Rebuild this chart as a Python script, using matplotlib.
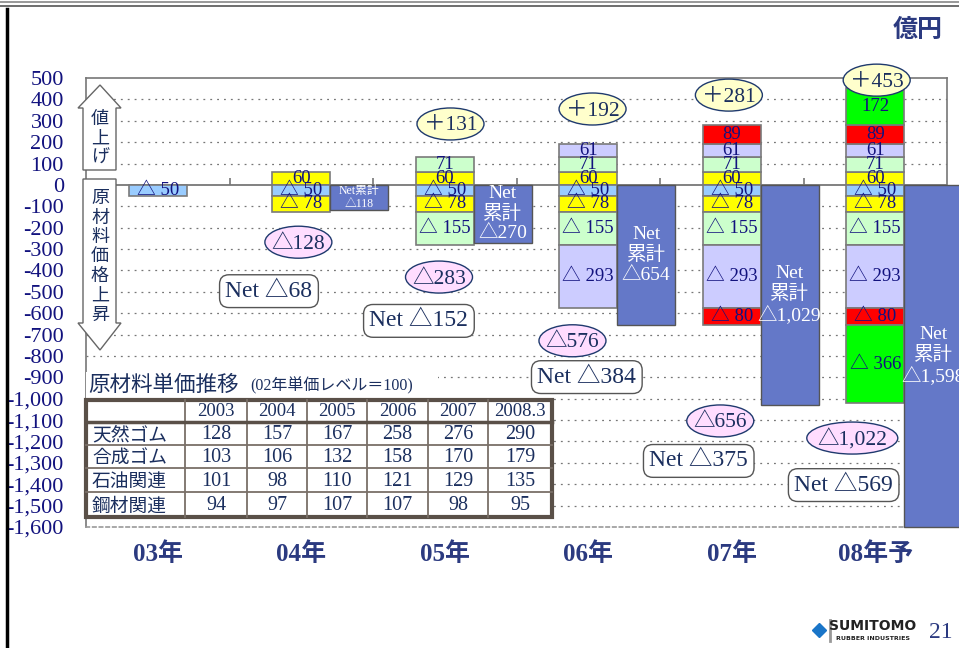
import numpy as np
import matplotlib.pyplot as plt
from matplotlib.patches import Polygon, Rectangle, Ellipse

plt.rcParams["font.family"] = ["Liberation Serif", "Noto Sans CJK JP"]
SANS = ["Noto Sans CJK JP"]

# ---- data -------------------------------------------------------------
years = ["03年", "04年", "05年", "06年", "07年", "08年予"]
price_up = [0, 60, 71, 61, 89, 172]          # 値上げ (added each year)
material_up = [50, 78, 155, 293, 80, 366]    # 原材料価格上昇 (added each year)
net_cum = [50, 118, 270, 654, 1029, 1598]    # Net累計 (bar drawn from 04)
seg_colors = ["#99CCFF", "#FFFF00", "#CCFFCC", "#CCCCFF", "#FF0000", "#00FF00"]

table_cols = ["2003", "2004", "2005", "2006", "2007", "2008.3"]
table_rows = ["天然ゴム", "合成ゴム", "石油関連", "鋼材関連"]
table_vals = [
    [128, 157, 167, 258, 276, 290],
    [103, 106, 132, 158, 170, 179],
    [101, 98, 110, 121, 129, 135],
    [94, 97, 107, 107, 98, 95],
]

up_total = np.cumsum(price_up)
down_total = np.cumsum(material_up)
net_year = down_total - up_total

# label placements (data coords)
up_pos = {2: (2.04, 285), 3: (3.03, 355), 4: (3.98, 420), 5: (5.01, 490)}
down_pos = {1: (0.98, -268), 2: (1.96, -431), 3: (2.89, -729), 4: (3.92, -1104), 5: (4.84, -1184)}
net_pos = {1: (0.775, -497), 2: (1.82, -636), 3: (2.99, -899), 4: (3.77, -1291), 5: (4.78, -1404)}

NAVY = "#12127E"
DARK = "#1B2F5E"
NETC = "#6478C8"
EDGE = "#7A7A7A"
W = 0.404
PX_X = 143.5     # pixels per x unit
PX_Y = 0.2138    # pixels per y unit

fig = plt.figure(figsize=(9.59, 6.48), dpi=100)
ax = fig.add_axes([86 / 959, 1 - 527 / 648, (947 - 86) / 959, (527 - 78) / 648])
ax.set_xlim(-0.5, 5.5)
ax.set_ylim(-1600, 500)

# grid + zero line
for v in range(-1500, 500, 100):
    if v != 0:
        ax.axhline(v, color="#777", lw=0.9, ls=(0, (1.5, 4)), zorder=1)
ax.axhline(0, color="#777", lw=1.3, zorder=2)
ax.vlines(np.arange(len(years) - 1) + 0.5, 0, 32, color="#777", lw=1.2, zorder=2)

for s in ax.spines.values():
    s.set_color("#777")
    s.set_linewidth(1.2)
ax.spines["bottom"].set_linestyle((0, (2, 2)))
ax.spines["bottom"].set_color("#999")

x = np.arange(len(years))
for i in x:
    bottom = 0
    for j in range(1, i + 1):
        if price_up[j] == 0:
            continue
        ax.bar(i, price_up[j], W, bottom=bottom, color=seg_colors[j],
               edgecolor=EDGE, lw=1.2, zorder=3)
        ax.text(i, bottom + price_up[j] / 2, f"{price_up[j]}", ha="center",
                va="center", fontsize=13.5, color=NAVY, zorder=4)
        bottom += price_up[j]
    top = 0
    for j in range(0, i + 1):
        ax.bar(i, -material_up[j], W, bottom=top, color=seg_colors[j],
               edgecolor=EDGE, lw=1.2, zorder=3)
        ax.text(i, top - material_up[j] / 2, f"△ {material_up[j]}", ha="center",
                va="center", fontsize=13.5, color=NAVY, zorder=4)
        top -= material_up[j]
    if i > 0:
        ax.bar(i + W, -net_cum[i], W, color=NETC, edgecolor="#555", lw=1,
               zorder=3, clip_on=False)
        if i == 1:
            lbl, fs = f"Net累計\n△{net_cum[i]:,}", 8.5
        else:
            lbl, fs = f"Net\n累計\n△{net_cum[i]:,}", 14
        ax.text(i + W, -net_cum[i] / 2, lbl, ha="center", va="center",
                fontsize=fs, color="white", zorder=4, clip_on=False)


def bubble(px, py, label, face):
    w = (19 + 12 * len(label)) / PX_X
    h = 32 / PX_Y
    ax.add_patch(Ellipse((px, py), w, h, fc=face, ec="#1F3A6E", lw=1,
                         zorder=6, clip_on=False))
    ax.text(px, py - 2 / PX_Y, label, ha="center", va="center", fontsize=15.5,
            color=DARK, zorder=7, clip_on=False)


for i, (px, py) in up_pos.items():
    bubble(px, py, f"＋{up_total[i]:,}", "#FFFFCC")
for i, (px, py) in down_pos.items():
    bubble(px, py, f"△{down_total[i]:,}", "#FFDDFF")
for i, (px, py) in net_pos.items():
    ax.text(px, py, f"Net △{net_year[i]:,}", ha="center", va="center", fontsize=17,
            color=DARK, zorder=6,
            bbox=dict(boxstyle="round,pad=0.25,rounding_size=0.4", fc="white", ec="#555", lw=1))

yt = list(range(-1600, 501, 100))
ax.set_yticks(yt)
ax.set_yticklabels([f"{v:,}" for v in yt], fontsize=16, color=NAVY)
ax.tick_params(axis="y", length=0, pad=16)
ax.set_xticks(x)
ax.set_xticklabels(years, fontsize=18, fontweight="bold", color="#2B3A80")
ax.tick_params(axis="x", length=0, pad=11)

# ---- overlay in pixel coordinates ------------------------------------
ov = fig.add_axes([0, 0, 1, 1], zorder=5)
ov.set_xlim(0, 959)
ov.set_ylim(648, 0)
ov.axis("off")

ov.plot([0, 959], [2, 2], color="#888", lw=1.2)
ov.plot([0, 959], [6, 6], color="#555", lw=1.2)
ov.plot([7, 7], [9, 648], color="black", lw=2.5)
ov.text(918, 30, "億円", ha="center", va="center", fontsize=18, fontweight="bold",
        color="#2B3A80", family=SANS)

up_arrow = [(100, 85), (121, 108), (116, 108), (116, 170), (83, 170), (83, 108), (78, 108)]
down_arrow = [(83, 179), (116, 179), (116, 323), (121, 323), (100, 350), (78, 323), (83, 323)]
for pts in (up_arrow, down_arrow):
    ov.add_patch(Polygon(pts, closed=True, fc="white", ec="#666", lw=1))
for k, ch in enumerate("値上げ"):
    ov.text(100, 119 + 19.5 * k, ch, ha="center", va="center", fontsize=13,
            color=DARK, family=SANS)
for k, ch in enumerate("原材料価格上昇"):
    ov.text(100, 198 + 19.5 * k, ch, ha="center", va="center", fontsize=13,
            color=DARK, family=SANS)

# table of raw material prices
ov.add_patch(Rectangle((86, 372), 352, 26, fc="white", ec="none"))
ov.text(88, 385, "原材料単価推移", ha="left", va="center", fontsize=15.5,
        color=DARK, family=SANS)
ov.text(250, 386, "(02年単価レベル＝100)", ha="left", va="center", fontsize=11.5,
        color=DARK)

col_edges = [86, 185, 247, 307, 367, 428, 488, 552]
row_edges = [400, 422, 445, 468, 492, 517]
ov.add_patch(Rectangle((86, 400), 466, 117, fc="white", ec="none"))
for cx in col_edges[1:-1]:
    ov.plot([cx, cx], [400, 517], color="#7A7068", lw=1.3)
for ry in row_edges[2:-1]:
    ov.plot([86, 552], [ry, ry], color="#7A7068", lw=1.3)
ov.plot([86, 552], [422, 422], color="#5A5048", lw=2.5)
ov.add_patch(Rectangle((86, 400), 466, 117, fc="none", ec="#5A5048", lw=3))

for c, name in enumerate(table_cols):
    cx = (col_edges[c + 1] + col_edges[c + 2]) / 2
    ov.text(cx, 412, name, ha="center", va="center", fontsize=13.5, color=DARK)
for r, name in enumerate(table_rows):
    cy = (row_edges[r + 1] + row_edges[r + 2]) / 2
    ov.text(92, cy + 1.5, name, ha="left", va="center", fontsize=13.5, color=DARK, family=SANS)
    for c, v in enumerate(table_vals[r]):
        cx = (col_edges[c + 1] + col_edges[c + 2]) / 2
        ov.text(cx, cy + 1, f"{v}", ha="center", va="center", fontsize=14.5, color=DARK)

# logo + page number
ov.plot([819], [630], marker="D", ms=7, color="#1A75C8")
ov.plot([830, 830], [620, 641], color="#999", lw=2)
ov.text(873, 626, "SUMITOMO", ha="center", va="center", fontsize=10, fontweight="bold",
        color="#222", family=["DejaVu Sans"])
ov.text(873, 638, "RUBBER INDUSTRIES", ha="center", va="center", fontsize=4.5,
        fontweight="bold", color="#222", family=["DejaVu Sans"])
ov.text(941, 632, "21", ha="center", va="center", fontsize=17, color="#2B3A80")

fig.savefig("out.png", dpi=100, facecolor="white")
